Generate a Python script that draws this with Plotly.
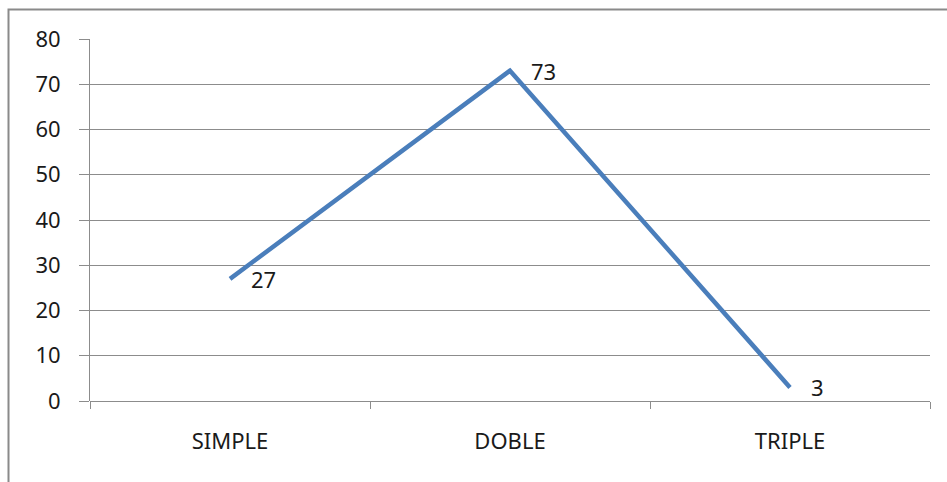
import plotly.graph_objects as go

categories = ["SIMPLE", "DOBLE", "TRIPLE"]
values = [27, 73, 3]
y_ticks = [0, 10, 20, 30, 40, 50, 60, 70, 80]

W, H = 947, 482
ML, MR, MT, MB = 90, 17, 39, 81
pw, ph = W - ML - MR, H - MT - MB

fig = go.Figure()
fig.add_trace(go.Scatter(
    x=categories, y=values, mode="lines",
    line=dict(color="#4A7EBB", width=4.5),
    hoverinfo="skip", showlegend=False,
))

for c, v in zip(categories, values):
    fig.add_annotation(
        x=c, y=v, text=str(v), showarrow=False,
        xanchor="left", yanchor="middle", xshift=19,
        font=dict(family="Noto Sans", size=22, color="#1a1a1a"),
    )

grid = "#8c8c8c"
fig.update_layout(
    width=W, height=H,
    margin=dict(l=ML, r=MR, t=MT, b=MB),
    paper_bgcolor="white", plot_bgcolor="white",
    font=dict(family="Noto Sans", size=22, color="#1a1a1a"),
    xaxis=dict(
        type="category", range=[-0.5, 2.5],
        tickson="boundaries", ticks="outside", ticklen=7, tickcolor=grid, tickwidth=1,
        showgrid=False, showline=False, zeroline=False,
        ticklabelstandoff=25,
    ),
    yaxis=dict(
        range=[0, 80], tickvals=y_ticks, ticktext=[str(t) for t in y_ticks],
        ticks="outside", ticklen=10, tickcolor=grid, tickwidth=1,
        showgrid=True, gridcolor=grid, gridwidth=1,
        showline=True, linecolor=grid, linewidth=1,
        zeroline=True, zerolinecolor=grid, zerolinewidth=1,
        ticklabelstandoff=14,
    ),
    shapes=[dict(
        type="rect", xref="paper", yref="paper",
        x0=(8.5 - ML) / pw, x1=(W + 5 - ML) / pw,
        y0=-(H + 5 - (MT + ph)) / ph, y1=1 + (MT - 9.5) / ph,
        line=dict(color="#8a8a8a", width=2), layer="below",
    )],
)

fig.write_html("out.html")
